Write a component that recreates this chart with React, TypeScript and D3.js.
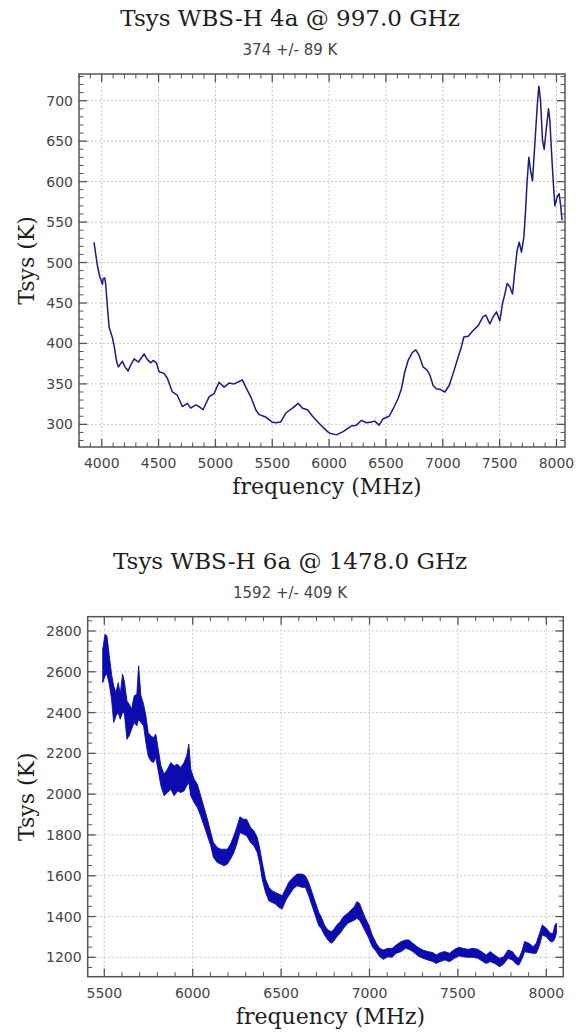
import React from "react";
import * as d3 from "d3";

// ---------- data ----------
const topTitle = "Tsys WBS-H 4a @ 997.0 GHz";
const topSubtitle = "374 +/- 89 K";
const botTitle = "Tsys WBS-H 6a @ 1478.0 GHz";
const botSubtitle = "1592 +/- 409 K";
const xLabel = "frequency (MHz)";
const yLabel = "Tsys (K)";

const topXTicks = [4000, 4500, 5000, 5500, 6000, 6500, 7000, 7500, 8000];
const topYTicks = [300, 350, 400, 450, 500, 550, 600, 650, 700];
const botXTicks = [5500, 6000, 6500, 7000, 7500, 8000];
const botYTicks = [1200, 1400, 1600, 1800, 2000, 2200, 2400, 2600, 2800];

const topFreq = [
  3932, 3962, 3982, 4006, 4012, 4026, 4035, 4050, 4065, 4094, 4109, 4132, 4147, 4182, 4200, 4232,
  4247, 4285, 4323, 4373, 4402, 4432, 4452, 4481, 4504, 4548, 4577, 4621, 4665, 4709, 4753, 4782,
  4826, 4856, 4891, 4944, 4988, 5032, 5076, 5120, 5164, 5208, 5237, 5267, 5311, 5355, 5384, 5443,
  5496, 5531, 5575, 5619, 5678, 5728, 5766, 5810, 5854, 5913, 5957, 5986, 6006, 6065, 6123, 6197,
  6240, 6285, 6328, 6372, 6402, 6440, 6475, 6528, 6563, 6607, 6636, 6666, 6695, 6733, 6763, 6792,
  6827, 6862, 6886, 6915, 6944, 6980, 7018, 7056, 7091, 7126, 7164, 7185, 7223, 7267, 7311, 7355,
  7378, 7414, 7443, 7472, 7502, 7525, 7546, 7566, 7590, 7613, 7634, 7654, 7672, 7692, 7713, 7728,
  7742, 7757, 7772, 7789, 7810, 7830, 7845, 7860, 7877, 7892, 7912, 7930, 7942, 7956, 7971, 7986,
  8006, 8024, 8035, 8050,
];
const topTsys = [
  525, 496, 483, 473, 480, 481, 473, 445, 420, 407, 397, 377, 371, 378, 372, 366,
  371, 381, 377, 387, 380, 376, 379, 376, 365, 363, 357, 340, 336, 322, 326, 320,
  324, 322, 318, 334, 338, 352, 346, 351, 350, 353, 355, 346, 334, 318, 312, 309,
  303, 302, 303, 314, 320, 326, 320, 318, 310, 301, 295, 291, 289, 287, 291, 298,
  299, 305, 302, 303, 304, 299, 307, 310, 319, 332, 344, 365, 379, 389, 392, 385,
  371, 367, 361, 348, 344, 343, 340, 348, 363, 379, 396, 408, 409, 416, 422, 433,
  435, 424, 433, 439, 428, 449, 461, 474, 470, 461, 490, 515, 525, 513, 531, 564,
  601, 630, 614, 601, 647, 692, 718, 700, 651, 640, 667, 690, 675, 638, 601, 570,
  581, 585, 572, 552,
];

const botFreq = [
  5491, 5504, 5515, 5528, 5541, 5553, 5566, 5579, 5590, 5603, 5613, 5628, 5641, 5654, 5669, 5684,
  5694, 5707, 5722, 5735, 5748, 5763, 5778, 5791, 5805, 5820, 5838, 5857, 5876, 5895, 5914, 5932,
  5951, 5966, 5978, 5989, 6008, 6026, 6045, 6064, 6083, 6102, 6117, 6139, 6158, 6177, 6196, 6214,
  6233, 6252, 6267, 6286, 6305, 6327, 6346, 6365, 6380, 6393, 6412, 6431, 6449, 6468, 6487, 6506,
  6525, 6543, 6568, 6590, 6619, 6637, 6656, 6675, 6694, 6713, 6726, 6745, 6764, 6783, 6796, 6815,
  6834, 6853, 6877, 6896, 6915, 6928, 6943, 6958, 6977, 6996, 7015, 7038, 7057, 7079, 7104, 7128,
  7151, 7179, 7204, 7223, 7245, 7274, 7302, 7330, 7359, 7377, 7400, 7425, 7453, 7481, 7506, 7528,
  7557, 7585, 7613, 7642, 7660, 7683, 7708, 7736, 7759, 7783, 7808, 7830, 7845, 7864, 7877, 7902,
  7925, 7943, 7962, 7977, 8000, 8023, 8038, 8049, 8057,
];
const botUpper = [
  2710, 2784, 2775, 2678, 2588, 2530, 2498, 2547, 2490, 2588, 2555, 2457, 2441, 2416, 2482, 2490,
  2629, 2482, 2441, 2384, 2302, 2286, 2277, 2294, 2220, 2139, 2098, 2122, 2155, 2139, 2147, 2131,
  2155, 2188, 2245, 2122, 2073, 2049, 1992, 1935, 1877, 1812, 1763, 1739, 1730, 1730, 1730, 1755,
  1796, 1845, 1889, 1877, 1877, 1837, 1820, 1788, 1730, 1665, 1583, 1543, 1526, 1518, 1510, 1502,
  1535, 1567, 1592, 1608, 1608, 1600, 1567, 1518, 1469, 1420, 1400, 1359, 1334, 1326, 1334, 1359,
  1375, 1400, 1416, 1432, 1449, 1473, 1465, 1432, 1391, 1359, 1310, 1269, 1244, 1236, 1244, 1244,
  1261, 1277, 1285, 1285, 1269, 1249, 1236, 1228, 1223, 1211, 1223, 1228, 1220, 1239, 1249, 1244,
  1239, 1244, 1239, 1223, 1211, 1228, 1211, 1195, 1203, 1236, 1228, 1203, 1195, 1236, 1277, 1269,
  1252, 1269, 1318, 1359, 1342, 1318, 1318, 1359, 1367,
];
const botLower = [
  2547, 2580, 2588, 2539, 2465, 2351, 2384, 2400, 2367, 2400, 2400, 2269, 2286, 2318, 2351, 2335,
  2367, 2351, 2335, 2253, 2188, 2163, 2155, 2180, 2114, 2041, 1992, 2008, 2024, 1992, 2016, 2008,
  2016, 2041, 2057, 1992, 1959, 1935, 1894, 1845, 1796, 1747, 1690, 1665, 1657, 1649, 1657, 1682,
  1714, 1763, 1812, 1804, 1796, 1763, 1747, 1714, 1657, 1583, 1518, 1477, 1469, 1461, 1445, 1437,
  1477, 1502, 1535, 1551, 1543, 1543, 1502, 1453, 1404, 1355, 1342, 1310, 1285, 1269, 1277, 1301,
  1318, 1342, 1367, 1375, 1383, 1391, 1383, 1359, 1326, 1293, 1253, 1228, 1203, 1190, 1203, 1200,
  1220, 1228, 1244, 1239, 1228, 1207, 1195, 1187, 1179, 1170, 1179, 1187, 1179, 1195, 1207, 1203,
  1200, 1200, 1195, 1179, 1170, 1179, 1170, 1154, 1167, 1195, 1187, 1167, 1162, 1195, 1228, 1223,
  1220, 1220, 1260, 1310, 1301, 1277, 1277, 1293, 1318,
];

// ---------- styles ----------
const FRAME = "#555";
const GRID = "#c9c9c9";
const TICKTXT = "#454545";
const TITLE = "#1e1e1e";

type Box = { left: number; right: number; top: number; bottom: number };

function Panel(props: {
  box: Box;
  xDomain: [number, number];
  yDomain: [number, number];
  xTicks: number[];
  yTicks: number[];
  xMinorStep: number;
  yMinorStep: number;
  title: string;
  subtitle: string;
  titleY: number;
  subtitleY: number;
  children: (x: d3.ScaleLinear<number, number>, y: d3.ScaleLinear<number, number>) => React.ReactNode;
}) {
  const { box, xDomain, yDomain, xTicks, yTicks, xMinorStep, yMinorStep } = props;
  const x = d3.scaleLinear().domain(xDomain).range([box.left, box.right]);
  const y = d3.scaleLinear().domain(yDomain).range([box.bottom, box.top]);
  const xMinor = d3.range(Math.ceil(xDomain[0] / xMinorStep) * xMinorStep, xDomain[1] + 1e-6, xMinorStep)
    .filter((v) => !xTicks.includes(v));
  const yMinor = d3.range(Math.ceil(yDomain[0] / yMinorStep) * yMinorStep, yDomain[1] + 1e-6, yMinorStep)
    .filter((v) => !yTicks.includes(v));
  const MAJ = 8, MIN = 4.5;
  const cx = 290;
  const clipId = "clip" + Math.round(box.top);
  return (
    <g>
      <defs>
        <clipPath id={clipId}>
          <rect x={box.left} y={box.top} width={box.right - box.left} height={box.bottom - box.top} />
        </clipPath>
      </defs>
      <text x={cx} y={props.titleY} textAnchor="middle" fontFamily="DejaVu Serif" fontSize={23} fill={TITLE}>
        {props.title}
      </text>
      <text x={cx} y={props.subtitleY} textAnchor="middle" fontFamily="DejaVu Sans" fontSize={15} fill={TICKTXT}>
        {props.subtitle}
      </text>
      {/* grid */}
      {xTicks.map((t) => (
        <line key={"gx" + t} x1={x(t)} x2={x(t)} y1={box.top} y2={box.bottom} stroke={GRID} strokeDasharray="2,2" strokeWidth={1} />
      ))}
      {yTicks.map((t) => (
        <line key={"gy" + t} x1={box.left} x2={box.right} y1={y(t)} y2={y(t)} stroke={GRID} strokeDasharray="2,2" strokeWidth={1} />
      ))}
      <g clipPath={`url(#${clipId})`}>{props.children(x, y)}</g>
      {/* ticks */}
      {xTicks.map((t) => (
        <g key={"tx" + t}>
          <line x1={x(t)} x2={x(t)} y1={box.bottom} y2={box.bottom - MAJ} stroke={FRAME} strokeWidth={1.3} />
          <line x1={x(t)} x2={x(t)} y1={box.top} y2={box.top + MAJ} stroke={FRAME} strokeWidth={1.3} />
          <text x={x(t)} y={box.bottom + 21} textAnchor="middle" fontFamily="DejaVu Sans" fontSize={14} fill={TICKTXT}>
            {t}
          </text>
        </g>
      ))}
      {xMinor.map((t) => (
        <g key={"mx" + t}>
          <line x1={x(t)} x2={x(t)} y1={box.bottom} y2={box.bottom - MIN} stroke={FRAME} strokeWidth={1} />
          <line x1={x(t)} x2={x(t)} y1={box.top} y2={box.top + MIN} stroke={FRAME} strokeWidth={1} />
        </g>
      ))}
      {yTicks.map((t) => (
        <g key={"ty" + t}>
          <line x1={box.left} x2={box.left + MAJ} y1={y(t)} y2={y(t)} stroke={FRAME} strokeWidth={1.3} />
          <line x1={box.right} x2={box.right - MAJ} y1={y(t)} y2={y(t)} stroke={FRAME} strokeWidth={1.3} />
          <text x={box.left - 6} y={y(t) + 5} textAnchor="end" fontFamily="DejaVu Sans" fontSize={14} fill={TICKTXT}>
            {t}
          </text>
        </g>
      ))}
      {yMinor.map((t) => (
        <g key={"my" + t}>
          <line x1={box.left} x2={box.left + MIN} y1={y(t)} y2={y(t)} stroke={FRAME} strokeWidth={1} />
          <line x1={box.right} x2={box.right - MIN} y1={y(t)} y2={y(t)} stroke={FRAME} strokeWidth={1} />
        </g>
      ))}
      <rect x={box.left} y={box.top} width={box.right - box.left} height={box.bottom - box.top} fill="none" stroke={FRAME} strokeWidth={1.5} />
      {/* axis titles */}
      <text x={(box.left + box.right) / 2 + 5} y={box.bottom + 47} textAnchor="middle" fontFamily="DejaVu Serif" fontSize={22} fill={TITLE}>
        {xLabel}
      </text>
      <text transform={`translate(34,${(box.top + box.bottom) / 2}) rotate(-90)`} textAnchor="middle" fontFamily="DejaVu Serif" fontSize={22} fill={TITLE}>
        {yLabel}
      </text>
    </g>
  );
}

export default function App() {
  const topBox: Box = { left: 79, right: 565, top: 74, bottom: 447 };
  const botBox: Box = { left: 87.7, right: 563.3, top: 616.7, bottom: 976.7 };
  const topData = topFreq.map((f, i) => [f, topTsys[i]] as [number, number]);
  const botData = botFreq.map((f, i) => ({ f, hi: botUpper[i], lo: botLower[i] }));
  return (
    <svg width={576} height={1032} style={{ position: "absolute", left: 0, top: 0, background: "#fff" }}>
      <rect x={0} y={0} width={576} height={1032} fill="#fff" />
      <Panel
        box={topBox}
        xDomain={[3800, 8075]}
        yDomain={[272, 733]}
        xTicks={topXTicks}
        yTicks={topYTicks}
        xMinorStep={100}
        yMinorStep={10}
        title={topTitle}
        subtitle={topSubtitle}
        titleY={26}
        subtitleY={55}
      >
        {(x, y) => {
          const line = d3.line<[number, number]>().x((d) => x(d[0])).y((d) => y(d[1]));
          return <path d={line(topData) || ""} fill="none" stroke="#1b1b86" strokeWidth={1.5} strokeLinejoin="round" />;
        }}
      </Panel>
      <Panel
        box={botBox}
        xDomain={[5406, 8096]}
        yDomain={[1105, 2870]}
        xTicks={botXTicks}
        yTicks={botYTicks}
        xMinorStep={100}
        yMinorStep={50}
        title={botTitle}
        subtitle={botSubtitle}
        titleY={569}
        subtitleY={598}
      >
        {(x, y) => {
          const area = d3
            .area<{ f: number; hi: number; lo: number }>()
            .x((d) => x(d.f))
            .y0((d) => y(d.lo))
            .y1((d) => y(d.hi));
          return <path d={area(botData) || ""} fill="#0b0bb0" stroke="#0b0bb0" strokeWidth={0.9} strokeLinejoin="round" />;
        }}
      </Panel>
    </svg>
  );
}
